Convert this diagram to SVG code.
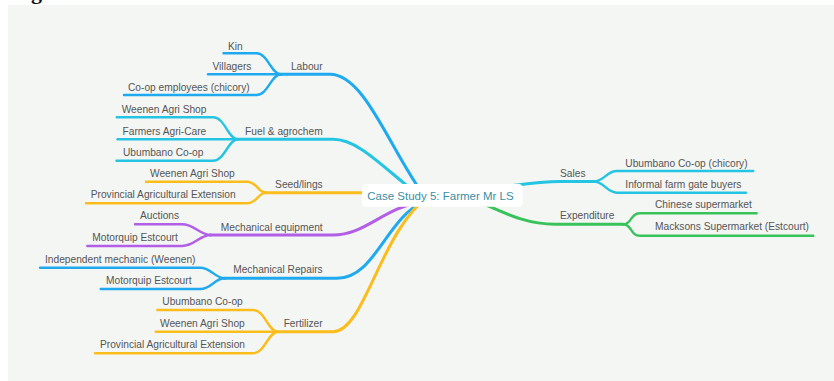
<svg xmlns="http://www.w3.org/2000/svg" width="834" height="381" viewBox="0 0 834 381">
<style>
.lbl{font-family:"Liberation Sans",Arial,sans-serif;font-size:10.2px;fill:#555}
.main{text-anchor:end}
.ln{fill:none;stroke-linecap:round;stroke-linejoin:round}
.m{stroke-width:3}
.c{stroke-width:2.4}
.blue{stroke:#1fa9ef}
.cyan{stroke:#25c4e2}
.yel{stroke:#fbbd1c}
.pur{stroke:#b25ee6}
.grn{stroke:#38c25a}
</style>
<rect x="0" y="0" width="834" height="381" fill="#ffffff"/>
<rect x="8" y="5" width="826" height="376" fill="#f4f6f4"/>
<text x="31" y="-1" style="font-family:'Liberation Serif',serif;font-size:22px;font-weight:bold;fill:#111">g</text>
<g id="connectors">
  <!-- main branches -->
  <path class="ln m blue" d="M280,74.3 H330 C365,74.3 390,150 425,197"/>
  <path class="ln m cyan" d="M237,139.3 H333 C360,139.3 385,170 425,200"/>
  <path class="ln m yel" d="M265,192.7 H430"/>
  <path class="ln m pur" d="M210,235 H333 C365,235 380,210 425,200"/>
  <path class="ln m blue" d="M224,278.3 H337 C375,278.3 385,220 425,200"/>
  <path class="ln m yel" d="M277,331.7 H333 C365,331.7 380,230 430,195"/>
  <path class="ln m cyan" d="M450,191 C500,190 525,181.5 560,181.5 H593.3"/>
  <path class="ln m grn" d="M450,193 C485,199 512,224.3 555,224.3 H623.3"/>
  <!-- Labour children -->
  <path class="ln c blue" d="M223.5,53.3 H256.5 C268,53.3 271,74.3 281,74.3"/>
  <path class="ln c blue" d="M208,74.3 H281"/>
  <path class="ln c blue" d="M124,95 H256.5 C268,95 271,74.3 281,74.3"/>
  <!-- Fuel children -->
  <path class="ln c cyan" d="M116.7,117.3 H213 C225,117.3 228,139.3 238,139.3"/>
  <path class="ln c cyan" d="M117.5,139.3 H238"/>
  <path class="ln c cyan" d="M116.5,160.7 H213 C225,160.7 228,139.3 238,139.3"/>
  <!-- Seed children -->
  <path class="ln c yel" d="M146,181.7 H247 C257,181.7 258,192.7 266,192.7"/>
  <path class="ln c yel" d="M86,203.3 H247 C257,203.3 258,192.7 266,192.7"/>
  <!-- Mechanical equipment children -->
  <path class="ln c pur" d="M135,224.3 H182 C195,224.3 199,235 211,235"/>
  <path class="ln c pur" d="M87.3,246 H182 C195,246 199,235 211,235"/>
  <!-- Mechanical repairs children -->
  <path class="ln c blue" d="M40,267.7 H200 C212,267.7 214,278.3 225,278.3"/>
  <path class="ln c blue" d="M100.7,289 H200 C212,289 214,278.3 225,278.3"/>
  <!-- Fertilizer children -->
  <path class="ln c yel" d="M157.3,310 H253 C265,310 268,331.7 278,331.7"/>
  <path class="ln c yel" d="M155.7,331.7 H278"/>
  <path class="ln c yel" d="M95,353.3 H253 C265,353.3 268,331.7 278,331.7"/>
  <!-- Sales children -->
  <path class="ln c cyan" d="M593.3,181.5 C605,181.5 606,171 617,171 H753.3"/>
  <path class="ln c cyan" d="M593.3,181.5 C605,181.5 606,192.7 617,192.7 H746"/>
  <!-- Expenditure children -->
  <path class="ln c grn" d="M623.3,224.3 C632,224.3 630,213.3 640,213.3 H756.7"/>
  <path class="ln c grn" d="M623.3,224.3 C632,224.3 630,235.7 640,235.7 H813.3"/>
</g>
<g id="center">
  <rect x="362" y="184" width="160.5" height="22.7" rx="4" fill="#ffffff"/>
  <text x="440.5" y="199.5" text-anchor="middle" style="font-family:'Liberation Sans',Arial,sans-serif;font-size:11.5px;fill:#3a8ea3">Case Study 5: Farmer Mr LS</text>
</g>
<g id="labour"><text class="lbl main" x="322.7" y="70">Labour</text></g>
<g id="kin"><text class="lbl" x="228" y="49.5">Kin</text></g>
<g id="villagers"><text class="lbl" x="212.5" y="70">Villagers</text></g>
<g id="coop-employees"><text class="lbl" x="128" y="90.5">Co-op employees (chicory)</text></g>
<g id="fuel"><text class="lbl main" x="322.7" y="135">Fuel &amp; agrochem</text></g>
<g id="fuel-weenen"><text class="lbl" x="121.7" y="112.5">Weenen Agri Shop</text></g>
<g id="fuel-farmers"><text class="lbl" x="122.5" y="134.5">Farmers Agri-Care</text></g>
<g id="fuel-ubumbano"><text class="lbl" x="123" y="156">Ubumbano Co-op</text></g>
<g id="seedlings"><text class="lbl main" x="322.7" y="187.5">Seed/lings</text></g>
<g id="seed-weenen"><text class="lbl" x="150" y="176.5">Weenen Agri Shop</text></g>
<g id="seed-provincial"><text class="lbl" x="90.7" y="197.5">Provincial Agricultural Extension</text></g>
<g id="mech-equipment"><text class="lbl main" x="322.7" y="230.7">Mechanical equipment</text></g>
<g id="auctions"><text class="lbl" x="140" y="219.3">Auctions</text></g>
<g id="equip-motorquip"><text class="lbl" x="92.3" y="240.7">Motorquip Estcourt</text></g>
<g id="mech-repairs"><text class="lbl main" x="322.7" y="273.3">Mechanical Repairs</text></g>
<g id="independent"><text class="lbl" x="45" y="262.7">Independent mechanic (Weenen)</text></g>
<g id="repairs-motorquip"><text class="lbl" x="106" y="284">Motorquip Estcourt</text></g>
<g id="fertilizer"><text class="lbl main" x="322.7" y="326.7">Fertilizer</text></g>
<g id="fert-ubumbano"><text class="lbl" x="162.3" y="305">Ubumbano Co-op</text></g>
<g id="fert-weenen"><text class="lbl" x="160" y="326.7">Weenen Agri Shop</text></g>
<g id="fert-provincial"><text class="lbl" x="100" y="347.7">Provincial Agricultural Extension</text></g>
<g id="sales"><text class="lbl" x="560" y="176.7">Sales</text></g>
<g id="sales-ubumbano"><text class="lbl" x="625.3" y="166.7">Ubumbano Co-op (chicory)</text></g>
<g id="sales-informal"><text class="lbl" x="625.3" y="187.7">Informal farm gate buyers</text></g>
<g id="expenditure"><text class="lbl" x="560" y="219.3">Expenditure</text></g>
<g id="chinese"><text class="lbl" x="655" y="208.3">Chinese supermarket</text></g>
<g id="macksons"><text class="lbl" x="655" y="230">Macksons Supermarket (Estcourt)</text></g>
</svg>
